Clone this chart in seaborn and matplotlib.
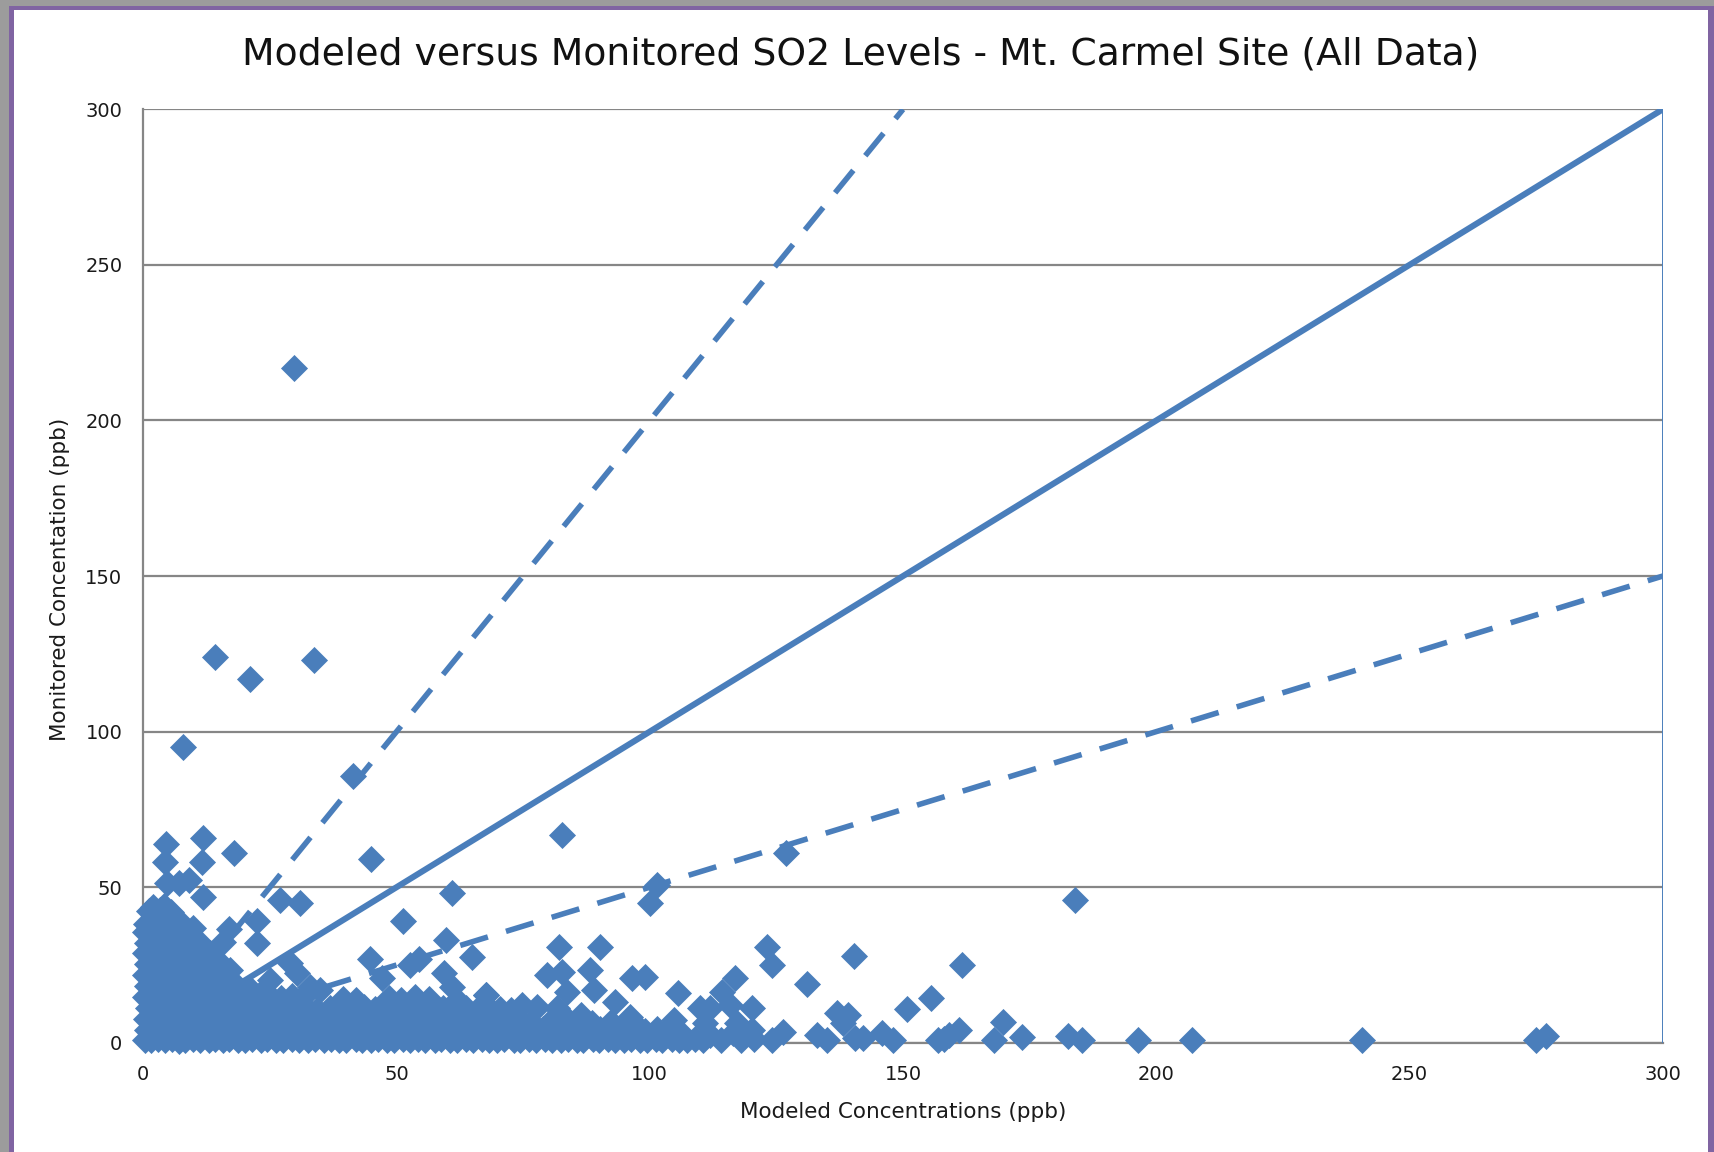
import numpy as np
import pandas as pd
import matplotlib
matplotlib.use("Agg")
import matplotlib.pyplot as plt
import seaborn as sns
from matplotlib.patches import Rectangle

# ---- data (ppb) ----
# dense band along the bottom (modeled, monitored)
row0_x = [0.3, 1.6, 3.0, 4.2, 5.7, 7.1, 8.3, 9.8, 11.2, 12.9, 14.1, 15.8, 17.0, 18.7, 20.1, 21.4, 23.2, 24.5,
          26.3, 27.6, 29.4, 30.7, 32.5, 33.9, 35.6, 37.0, 38.7, 40.1, 41.9, 43.2, 45.0, 46.3, 48.1, 49.5, 51.2,
          52.6, 54.3, 55.7, 57.5, 58.8, 60.6, 61.9, 63.7, 65.1, 66.8, 68.2, 69.9, 71.3, 73.1, 74.4, 76.2, 77.5,
          79.3, 80.7, 82.4, 83.8, 85.6, 86.9, 88.7, 90.0, 91.8, 93.2, 94.9, 96.3, 98.1, 99.4, 101.2, 102.5,
          104.3, 105.8, 107.4, 108.9, 110.6]
row0_y = [1.0, 0.8, 1.2, 0.9, 1.1, 0.7, 1.0, 1.3, 0.8, 1.0, 1.2, 0.9, 1.1, 0.8, 1.0, 1.2, 0.9, 1.1,
          0.8, 1.0, 1.3, 0.9, 1.0, 1.1, 0.8, 1.2, 1.0, 0.9, 1.1, 0.8, 1.0, 1.2, 0.9, 1.0, 1.1,
          0.8, 1.2, 1.0, 0.9, 1.1, 0.8, 1.0, 1.2, 0.9, 1.1, 0.8, 1.0, 1.2, 0.9, 1.0, 1.1, 0.8,
          1.2, 1.0, 0.9, 1.1, 0.8, 1.0, 1.2, 0.9, 1.1, 0.8, 1.0, 1.2, 0.9, 1.0, 1.1, 0.8,
          1.2, 1.0, 0.9, 1.1, 0.8]
row1_x = [0.8, 2.9, 5.1, 7.4, 9.6, 11.9, 14.0, 16.3, 18.5, 20.8, 23.0, 25.2, 27.5, 29.7, 32.0, 34.2, 36.5,
          38.6, 40.9, 43.1, 45.4, 47.6, 49.8, 52.1, 54.3, 56.6, 58.8, 61.0, 63.3, 65.5, 67.8, 70.0, 72.2,
          74.5, 76.7, 79.0, 81.2, 83.4, 85.7, 87.9, 90.2, 92.4, 94.6, 96.9, 99.1, 101.4, 103.6, 105.8]
row1_y = [4.2, 4.0, 4.5, 3.8, 4.3, 4.1, 4.6, 3.9, 4.2, 4.4, 3.7, 4.3, 4.0, 4.5, 3.8, 4.2, 4.4,
          3.9, 4.1, 4.6, 3.8, 4.3, 4.0, 4.4, 3.9, 4.2, 4.5, 3.8, 4.1, 4.3, 3.9, 4.4, 4.0,
          4.2, 3.8, 4.5, 4.1, 3.9, 4.3, 4.0, 4.4, 3.8, 4.2, 4.1, 3.9, 4.3, 4.0, 3.8]
row2_x = [0.5, 2.6, 4.9, 7.1, 9.2, 11.6, 13.7, 15.9, 18.2, 20.4, 22.7, 24.8, 27.1, 29.3, 31.6, 33.8, 36.0,
          38.3, 40.5, 42.8, 44.9, 47.2, 49.4, 51.7, 53.9, 56.1, 58.4, 60.6, 62.9, 65.0, 67.3, 69.5, 71.8,
          74.0, 76.5, 80.2, 84.0, 88.5, 92.3, 97.1, 104.7]
row2_y = [7.6, 7.9, 7.3, 7.8, 7.5, 8.0, 7.4, 7.7, 7.9, 7.2, 7.6, 8.1, 7.5, 7.8, 7.3, 7.7, 8.0,
          7.4, 7.6, 7.9, 7.3, 7.8, 7.5, 8.0, 7.4, 7.7, 7.9, 7.2, 7.6, 8.0, 7.5, 7.8, 7.3,
          7.7, 6.8, 6.5, 7.0, 6.2, 6.6, 5.9, 7.3]
row3_x = [0.9, 3.1, 5.4, 7.6, 9.8, 12.1, 14.3, 16.6, 18.8, 21.0, 23.3, 25.5, 27.8, 30.0, 32.2, 34.3, 36.8,
          39.0, 41.3, 43.5, 45.8, 48.0, 50.2, 52.5, 54.7, 57.0, 59.2, 61.4, 63.7, 65.9, 68.2, 70.4, 72.6]
row3_y = [11.2, 10.8, 11.5, 11.0, 10.7, 11.3, 11.1, 10.9, 11.4, 11.0, 10.6, 11.2, 11.5, 10.9, 11.1, 10.5, 11.3,
          10.8, 11.0, 11.6, 10.7, 11.2, 10.9, 11.4, 11.0, 10.6, 11.3, 10.8, 11.1, 10.5, 11.2, 10.9, 10.4]
row4_x = [0.4, 2.5, 4.8, 7.0, 9.3, 11.5, 13.8, 16.0, 18.2, 20.5, 22.7, 25.0, 27.2, 29.4, 31.5, 39.5, 42.0,
          48.5, 50.8, 53.6, 56.4, 62.0, 67.6]
row4_y = [14.6, 14.9, 14.4, 15.1, 14.7, 14.3, 15.0, 14.8, 14.5, 15.2, 14.6, 14.9, 14.4, 15.0, 14.7, 14.2, 13.8,
          14.5, 13.9, 14.8, 14.1, 13.7, 15.4]
row5_x = [0.8, 3.0, 5.3, 7.5, 9.7, 12.0, 14.2, 16.5, 18.7, 21.0, 23.6, 25.0, 33.0, 34.9]
row5_y = [18.3, 18.0, 18.5, 18.2, 17.9, 18.4, 18.1, 18.6, 17.8, 17.2, 16.5, 20.2, 18.0, 17.0]
row6_x = [0.3, 2.4, 4.7, 6.9, 9.2, 11.4, 13.6, 15.9, 17.1]
row6_y = [21.8, 22.1, 21.6, 22.0, 21.7, 22.2, 21.9, 21.5, 23.4]
row7_x = [0.7, 2.9, 5.1, 7.4, 9.6, 11.8, 14.5]
row7_y = [25.3, 25.0, 25.5, 25.1, 25.4, 24.8, 26.6]
row8_x = [0.4, 2.6, 4.8, 7.1, 9.3, 11.6, 13.2]
row8_y = [28.7, 29.0, 28.5, 28.9, 28.6, 28.2, 28.8]
row9_x = [0.8, 3.0, 5.2, 7.5, 9.7, 11.0]
row9_y = [32.2, 31.9, 32.4, 32.0, 31.8, 32.3]
row10_x = [0.3, 2.5, 4.7, 6.9, 8.8]
row10_y = [35.6, 35.9, 35.4, 35.8, 35.2]
row11_x = [0.5, 2.9, 5.1, 7.0]
row11_y = [38.2, 39.1, 38.8, 39.3]
row12_x = [1.2, 2.0, 3.3, 4.0, 5.4]
row12_y = [42.4, 43.6, 42.8, 44.0, 41.9]

# scattered points above the band and further out
outer_x = [29.8, 14.2, 33.8, 21.0, 7.8, 41.4, 82.6, 4.5, 11.7, 4.2, 11.5, 18.0, 44.9, 4.6, 7.0, 9.1,
           11.7, 27.0, 31.0, 60.9, 101.4, 100.1, 126.8, 184.0, 22.4, 22.4, 51.2, 59.8, 17.0, 15.8, 9.9,
           44.8, 52.7, 54.5, 64.9, 47.1, 59.3, 67.6, 30.3, 29.0, 60.9, 82.0, 90.2, 79.7, 82.6, 88.2, 83.6,
           88.9, 96.5, 99.1, 93.2, 105.5, 86.5, 96.0, 110.0, 74.7, 77.7, 81.7, 123.2, 124.2, 116.9, 131.0,
           140.3, 114.3, 111.9, 120.2, 115.9, 117.2, 137.0, 139.2, 138.2, 126.3, 124.2, 120.2, 133.0,
           135.0, 140.5, 142.1, 145.9, 148.0, 150.7, 155.6, 161.7, 169.7, 157.0, 158.0, 159.0, 161.0,
           168.0, 173.5, 182.6, 185.4, 196.4, 207.0, 240.7, 275.0, 277.0, 111.9, 114.0, 116.5, 118.0,
           120.6, 111.0]
outer_y = [217.0, 123.9, 123.0, 116.8, 95.0, 85.7, 66.8, 64.0, 65.9, 58.0, 58.0, 60.9, 59.0, 51.3, 51.3, 52.3,
           47.0, 45.9, 45.0, 48.0, 50.7, 44.8, 61.0, 46.0, 39.0, 32.0, 39.0, 33.0, 36.5, 32.5, 36.8,
           27.0, 25.0, 26.8, 27.6, 20.7, 22.3, 15.4, 22.3, 25.5, 18.0, 30.9, 30.9, 21.8, 22.9, 23.4, 16.4,
           17.0, 20.7, 21.2, 13.2, 15.9, 8.9, 8.4, 11.1, 12.1, 11.6, 11.1, 30.8, 25.0, 20.8, 18.9,
           27.9, 16.3, 11.1, 11.1, 12.1, 6.4, 9.6, 8.9, 6.4, 3.5, 0.9, 4.1, 2.5,
           0.9, 1.5, 1.5, 3.1, 0.9, 10.9, 14.4, 25.0, 6.7, 1.0, 1.2, 2.5, 4.0,
           1.0, 1.8, 2.2, 1.0, 1.0, 1.0, 1.0, 1.0, 2.3, 2.5, 1.0, 3.0, 1.0,
           1.2, 6.4]

modeled = (row0_x + row1_x + row2_x + row3_x + row4_x + row5_x + row6_x + row7_x + row8_x
           + row9_x + row10_x + row11_x + row12_x + outer_x)
monitored = (row0_y + row1_y + row2_y + row3_y + row4_y + row5_y + row6_y + row7_y + row8_y
             + row9_y + row10_y + row11_y + row12_y + outer_y)

# reference lines: 1:1, factor 2 over, factor 2 under
line_x = [17.5, 300]
line_1to1 = [17.5, 300]
line_2x_x = [17.5, 150]
line_2x_y = [35, 300]
line_half = [8.75, 150]
edge_x = [300, 300]
edge_y = [0, 300]

ticks = [0, 50, 100, 150, 200, 250, 300]

blue = "#4A7EBB"
grid_gray = "#868686"
purple = "#8064A2"

sns.set_style("white")
plt.rcParams["font.family"] = ["DejaVu Sans"]

W, H = 1714, 1152
fig = plt.figure(figsize=(W / 100, H / 100), dpi=100)
ax = fig.add_axes([0.0836, 0.0948, 0.8865, 0.8103])

df = pd.DataFrame({"modeled": modeled, "monitored": monitored})
sns.scatterplot(data=df, x="modeled", y="monitored", marker="D", s=190, color=blue,
                linewidth=0, ax=ax, clip_on=False, zorder=3)

ax.plot(line_x, line_1to1, color=blue, lw=4.4, solid_capstyle="butt", zorder=4)
ax.plot(line_2x_x, line_2x_y, color=blue, lw=4.0, dashes=(5.2, 3.4), zorder=4)
ax.plot(line_x, line_half, color=blue, lw=4.0, dashes=(5.2, 3.4), zorder=4)
ax.plot(edge_x, edge_y, color=blue, lw=1.4, zorder=4)

ax.set_xlim(0, 300)
ax.set_ylim(0, 300)
ax.set_xticks(ticks)
ax.set_yticks(ticks)
ax.yaxis.grid(True, color=grid_gray, lw=1.6)
ax.xaxis.grid(False)
ax.set_axisbelow(True)
for s in ["top", "right"]:
    ax.spines[s].set_visible(False)
for s in ["left", "bottom"]:
    ax.spines[s].set_color(grid_gray)
    ax.spines[s].set_linewidth(1.6)
ax.tick_params(axis="both", direction="out", length=5, width=1.6, color=grid_gray,
               labelsize=14, labelcolor="#1a1a1a")
ax.tick_params(axis="y", pad=10)
ax.tick_params(axis="x", pad=11)

ax.set_xlabel("Modeled Concentrations (ppb)", fontsize=15.5, color="#1a1a1a", va="center")
ax.set_ylabel("Monitored Concentation (ppb)", fontsize=15.5, color="#1a1a1a", va="center")
ax.xaxis.set_label_coords(0.5, -0.074)
ax.yaxis.set_label_coords(-0.0548, 0.496)

fig.text(0.502, 0.953, "Modeled versus Monitored SO2 Levels - Mt. Carmel Site (All Data)",
         ha="center", va="center", fontsize=27.2, color="#111111")

# purple frame with a grey shadow on the left and top, like the pasted chart object
def band(x0, y0, w, h, color):
    fig.patches.append(Rectangle((x0 / W, 1 - (y0 + h) / H), w / W, h / H,
                                 transform=fig.transFigure, color=color, lw=0, zorder=0))

band(0, 0, 9, H, "#9c9c9c")
band(0, 0, W, 6, "#9c9c9c")
band(9, 6, 5, H - 6, purple)
band(9, 6, W - 9, 4, purple)
band(W - 6, 6, 6, H - 6, purple)

fig.savefig("out.png", dpi=100, facecolor="white")
